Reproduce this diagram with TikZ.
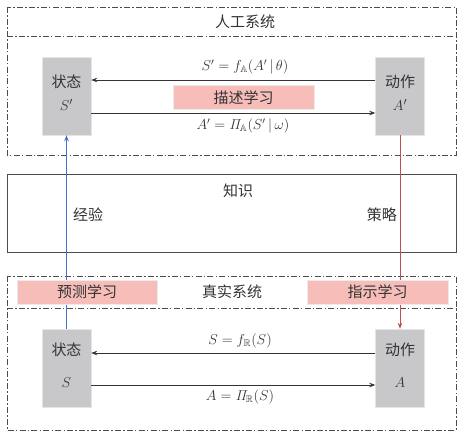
\documentclass[tikz,border=0pt]{standalone}
\usepackage{amsmath,amssymb}
\usepackage[no-math]{fontspec}
\newfontfamily\cjk{Noto Sans CJK SC}
\usetikzlibrary{arrows.meta}
\definecolor{boxgray}{HTML}{C8C8CA}
\definecolor{pinkfill}{HTML}{F6BDB9}
\definecolor{blueline}{HTML}{4472C4}
\definecolor{redline}{HTML}{C0504D}
\definecolor{txt}{HTML}{333333}
\begin{document}
\begin{tikzpicture}[x=1pt,y=-1pt,
  dashdot/.style={draw=black!70, line width=0.8pt, dash pattern=on 6pt off 2.2pt on 1.5pt off 2.2pt},
  graybox/.style={draw=black!10, fill=boxgray, minimum width=49pt, minimum height=78pt, inner sep=0pt},
  pinkbox/.style={draw=black!8, line width=0.8pt, fill=pinkfill, minimum height=24pt, inner sep=0pt, text=txt, font=\cjk\fontsize{15}{15}\selectfont},
  cn/.style={font=\cjk\fontsize{15}{18}\selectfont, text=txt, inner sep=0pt},
  mth/.style={font=\fontsize{14}{16}\selectfont, text=txt, inner sep=0pt},
  bm/.style={font=\fontsize{15}{17}\selectfont, text=txt, inner sep=0pt},
  arr/.style={-{Stealth[length=6pt,width=4.5pt]}, line width=0.8pt, draw=black!80},
  barr/.style={-{Stealth[length=6pt,width=4.5pt]}, line width=0.8pt, draw=blueline},
  rarr/.style={-{Stealth[length=6pt,width=4.5pt]}, line width=0.8pt, draw=redline}
]
\useasboundingbox (0,0) rectangle (464,437);
% top system frame
\draw[dashdot] (7,7) rectangle (456,155);
\draw[dashdot] (7,36) -- (456,36);
\node[cn] (titleA) at (245,22) {人工系统};
% knowledge box
\draw[draw=black!70, line width=1pt] (7,174) rectangle (456,252);
\node[cn] (know) at (238,191) {知识};
% bottom system frame
\draw[dashdot] (7,276) rectangle (456,430);
\draw[dashdot] (7,308) -- (456,308);
\node[cn] (titleR) at (232,292) {真实系统};
% upper boxes
\node[graybox] (stA) at (66.5,96) {};
\node[graybox] (acA) at (400,96) {};
\node[cn] (stAt) at (66.5,82) {状态};
\node[bm] (stAm) at (66.5,105) {$S'$};
\node[cn] (acAt) at (400,82) {动作};
\node[bm] (acAm) at (400,105) {$A'$};
% lower boxes
\node[graybox] (stR) at (66.5,368) {};
\node[graybox] (acR) at (400,368) {};
\node[cn] (stRt) at (66.5,350) {状态};
\node[bm] (stRm) at (66.5,383) {$S$};
\node[cn] (acRt) at (400,350) {动作};
\node[bm] (acRm) at (400,383) {$A$};
% upper arrows
\draw[arr] ([yshift=16pt]acA.west) -- ([yshift=16pt]stA.east);
\draw[arr] ([yshift=-17pt]stA.east) -- ([yshift=-17pt]acA.west);
\node[mth] (fA) at (245,67) {$S'=f_{\mathbb{A}}(A'\,|\,\theta)$};
\node[mth] (piA) at (243,126) {$A'=\mathit{\Pi}_{\mathbb{A}}(S'\,|\,\omega)$};
\node[pinkbox, minimum width=141pt] (desc) at (243.5,97.5) {描述学习};
% lower arrows
\draw[arr] ([yshift=15pt]acR.west) -- ([yshift=15pt]stR.east);
\draw[arr] ([yshift=-17pt]stR.east) -- ([yshift=-17pt]acR.west);
\node[mth] (fR) at (240,341) {$S=f_{\mathbb{R}}(S)$};
\node[mth] (piR) at (240,397) {$A=\mathit{\Pi}_{\mathbb{R}}(S)$};
% vertical connectors
\draw[barr] (stR.north) -- (stA.south);
\draw[rarr] (acA.south) -- (acR.north);
\node[cn, anchor=west] (exp) at (73,215) {经验};
\node[cn, anchor=east] (pol) at (397,215) {策略};
% learning boxes over the connectors
\node[pinkbox, minimum width=140pt] (pred) at (87,292) {预测学习};
\node[pinkbox, minimum width=141pt] (inst) at (377.5,292) {指示学习};
\end{tikzpicture}
\end{document}
